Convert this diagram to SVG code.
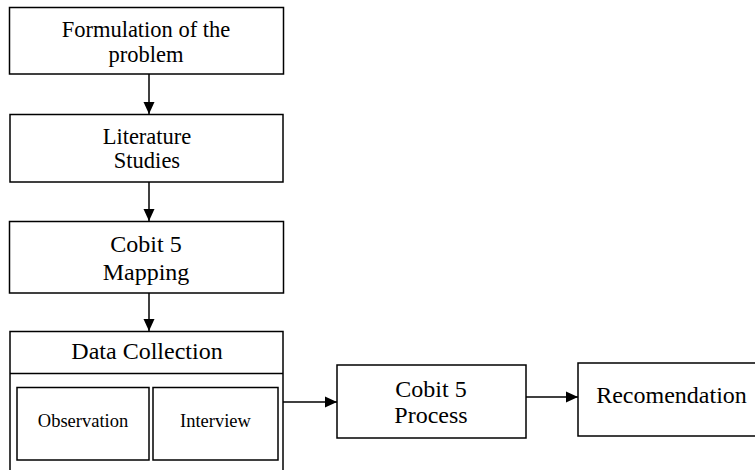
<svg xmlns="http://www.w3.org/2000/svg" width="755" height="470" viewBox="0 0 755 470">
<defs>
<style>
.box{fill:#fff;stroke:#000;stroke-width:1.5}
text{font-family:"Liberation Serif",serif;fill:#000;text-anchor:middle}
.l{font-size:22.5px}
.m{font-size:24px}
.s{font-size:18.5px}
.c{stroke:#000;stroke-width:1.5;fill:none}
</style>
<marker id="ah" markerWidth="12" markerHeight="12" refX="12" refY="6" orient="auto" markerUnits="userSpaceOnUse">
<path d="M0,0.5 L12,6 L0,11.5 Z" fill="#000"/>
</marker>
</defs>
<rect width="755" height="470" fill="#fff"/>
<g id="connectors">
<line class="c" x1="149" y1="74" x2="149" y2="114" marker-end="url(#ah)"/>
<line class="c" x1="149" y1="182" x2="149" y2="221" marker-end="url(#ah)"/>
<line class="c" x1="149" y1="293" x2="149" y2="331" marker-end="url(#ah)"/>
<line class="c" x1="283" y1="402" x2="337" y2="402" marker-end="url(#ah)"/>
<line class="c" x1="526" y1="397" x2="578" y2="397" marker-end="url(#ah)"/>
</g>
<g id="formulation">
<rect class="box" x="9.5" y="7.5" width="274" height="66.5"/>
<text class="l" x="146" y="37" font-family="Liberation Serif">Formulation of the</text>
<text class="l" x="146" y="62" font-family="Liberation Serif">problem</text>
</g>
<g id="literature">
<rect class="box" x="10" y="114.5" width="273" height="67.5"/>
<text class="l" x="147" y="144" font-family="Liberation Serif">Literature</text>
<text class="l" x="147" y="168" font-family="Liberation Serif">Studies</text>
</g>
<g id="mapping">
<rect class="box" x="9.5" y="221.5" width="274" height="71.5"/>
<text class="m" x="146" y="252" font-family="Liberation Serif">Cobit 5</text>
<text class="m" x="146" y="280" font-family="Liberation Serif">Mapping</text>
</g>
<g id="datacollection">
<rect class="box" x="10" y="331.5" width="273" height="150"/>
<line class="c" x1="10" y1="373.5" x2="283" y2="373.5"/>
<text class="m" x="147" y="359" font-family="Liberation Serif">Data Collection</text>
</g>
<g id="observation">
<rect class="box" x="17" y="387.5" width="132" height="72.5"/>
<text class="s" x="83" y="427" font-family="Liberation Serif">Observation</text>
</g>
<g id="interview">
<rect class="box" x="153" y="387.5" width="125" height="72.5"/>
<text class="s" x="215.5" y="427" font-family="Liberation Serif">Interview</text>
</g>
<g id="process">
<rect class="box" x="337" y="365" width="189" height="73"/>
<text class="m" x="431" y="397" font-family="Liberation Serif">Cobit 5</text>
<text class="m" x="431" y="423" font-family="Liberation Serif">Process</text>
</g>
<g id="recomendation">
<rect class="box" x="578" y="363" width="187" height="73"/>
<text class="m" x="671.5" y="403" font-family="Liberation Serif">Recomendation</text>
</g>
</svg>
